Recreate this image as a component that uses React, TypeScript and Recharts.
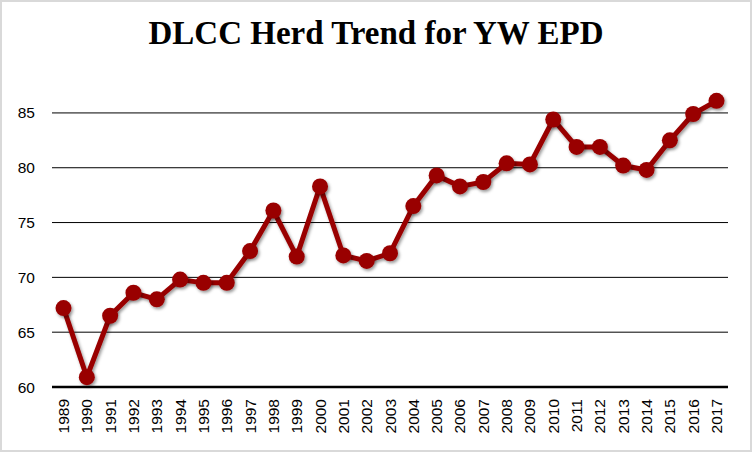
import React from 'react';
import { LineChart, Line, XAxis, YAxis, CartesianGrid } from 'recharts';

const years = [
  '1989', '1990', '1991', '1992', '1993', '1994', '1995', '1996', '1997', '1998',
  '1999', '2000', '2001', '2002', '2003', '2004', '2005', '2006', '2007', '2008',
  '2009', '2010', '2011', '2012', '2013', '2014', '2015', '2016', '2017',
];
const ywEpd = [
  67.2, 60.9, 66.5, 68.6, 68.0, 69.8, 69.5, 69.5, 72.4, 76.1,
  71.9, 78.3, 72.0, 71.5, 72.2, 76.5, 79.3, 78.3, 78.7, 80.4,
  80.3, 84.4, 81.9, 81.9, 80.2, 79.8, 82.5, 84.9, 86.1,
];
const yTicks = [60, 65, 70, 75, 80, 85];

const data = years.map((year, i) => ({ year, value: ywEpd[i] }));

const RED = '#990000';

function YearTick(props: any) {
  const { x, y, payload } = props;
  return (
    <text
      x={x}
      y={y}
      transform={`rotate(-90 ${x} ${y})`}
      textAnchor="end"
      dominantBaseline="central"
      fontSize={15.5}
      fontFamily="'Liberation Sans', Arial, sans-serif"
      fill="#000"
    >
      {payload.value}
    </text>
  );
}

function Dot(props: any) {
  const { cx, cy } = props;
  if (cx == null || cy == null) return null;
  return <circle cx={cx} cy={cy} r={8} fill={RED} stroke="none" filter="url(#shadow)" />;
}

export default function App() {
  return (
    <div
      style={{
        position: 'fixed',
        left: 0,
        top: 0,
        width: 752,
        height: 452,
        boxSizing: 'border-box',
        border: '2px solid #d9d9d9',
        background: '#fff',
      }}
    >
      <div
        style={{
          position: 'absolute',
          left: 0,
          right: 0,
          top: 13,
          textAlign: 'center',
          fontFamily: "'Liberation Serif', 'Times New Roman', serif",
          fontWeight: 'bold',
          fontSize: 33,
          color: '#000',
        }}
      >
        DLCC Herd Trend for YW EPD
      </div>
      <div style={{ position: 'absolute', left: -2, top: -2 }}>
        <LineChart
          width={752}
          height={452}
          data={data}
          margin={{ top: 91, right: 24, bottom: 0, left: 0 }}
        >
          <defs>
            <filter id="shadow" x="-50%" y="-50%" width="200%" height="200%">
              <feDropShadow dx="1.5" dy="2" stdDeviation="1.5" floodColor="#000" floodOpacity="0.4" />
            </filter>
          </defs>
          <CartesianGrid vertical={false} horizontalValues={yTicks} stroke="#000" strokeWidth={1} />
          <XAxis
            dataKey="year"
            interval={0}
            height={65}
            padding={{ left: 11.5, right: 11.5 }}
            tickLine={false}
            stroke="#000"
            strokeWidth={2.5}
            tick={<YearTick />}
            tickSize={0}
            tickMargin={12}
          />
          <YAxis
            domain={[60, 87]}
            ticks={yTicks}
            width={52}
            axisLine={false}
            tickLine={false}
            tickSize={0}
            tickMargin={17}
            tick={{ fontSize: 15.5, fill: '#000', fontFamily: "'Liberation Sans', Arial, sans-serif" }}
          />
          <Line
            dataKey="value"
            stroke={RED}
            strokeWidth={5}
            dot={<Dot />}
            activeDot={false}
            isAnimationActive={false}
            filter="url(#shadow)"
          />
        </LineChart>
      </div>
    </div>
  );
}
